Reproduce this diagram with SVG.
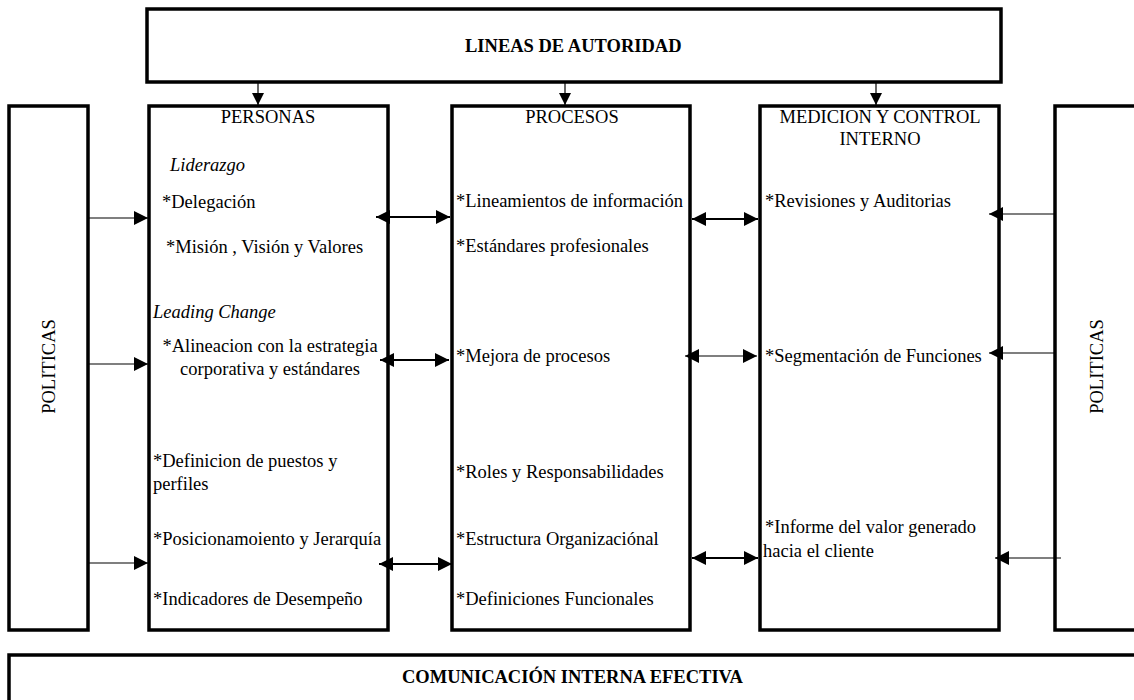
<svg xmlns="http://www.w3.org/2000/svg" width="1134" height="700" viewBox="0 0 1134 700">
  <style>
    .box { fill: #fff; stroke: #000; stroke-width: 3.5; }
    .t { font-family: "Liberation Serif", "Times New Roman", serif; font-size: 18.5px; fill: #000; }
    .b { font-weight: bold; }
    .i { font-style: italic; }
    .mid { text-anchor: middle; }
    .thin { stroke: #000; stroke-width: 1.2; fill: none; }
    .thick { stroke: #000; stroke-width: 2.2; fill: none; }
  </style>
  <defs>
    <marker id="ah" markerUnits="userSpaceOnUse" markerWidth="14" markerHeight="14" refX="14" refY="7" orient="auto-start-reverse">
      <path d="M0,0 L14,7 L0,14 Z" fill="#000"/>
    </marker>
    <marker id="ahs" markerUnits="userSpaceOnUse" markerWidth="12" markerHeight="14" refX="12" refY="7" orient="auto">
      <path d="M0,1 L12,7 L0,13 Z" fill="#000"/>
    </marker>
  </defs>

  <rect width="1134" height="700" fill="#fff"/>

  <!-- Top band -->
  <g id="lineas-autoridad">
    <rect class="box" x="147" y="9" width="854" height="73"/>
    <text class="t b" x="465" y="52">LINEAS DE AUTORIDAD</text>
  </g>

  <!-- Left policies column -->
  <g id="politicas-izq">
    <rect class="box" x="9" y="106" width="79" height="524"/>
    <text class="t mid" transform="translate(55,366.5) rotate(-90)">POLITICAS</text>
  </g>

  <!-- People -->
  <g id="personas">
    <rect class="box" x="149" y="106" width="239" height="524"/>
    <text class="t mid" x="268" y="123">PERSONAS</text>
    <text class="t i" x="170" y="171">Liderazgo</text>
    <text class="t" x="162" y="208">*Delegación</text>
    <text class="t" x="166" y="253">*Misión , Visión y Valores</text>
    <text class="t i" x="153" y="318">Leading Change</text>
    <text class="t mid" x="270" y="352">*Alineacion con la estrategia</text>
    <text class="t mid" x="270" y="375">corporativa y estándares</text>
    <text class="t" x="153" y="467">*Definicion de puestos y</text>
    <text class="t" x="153" y="490">perfiles</text>
    <text class="t" x="153" y="545">*Posicionamoiento y Jerarquía</text>
    <text class="t" x="153" y="605">*Indicadores de Desempeño</text>
  </g>

  <!-- Processes -->
  <g id="procesos">
    <rect class="box" x="452" y="106" width="238" height="524"/>
    <text class="t mid" x="572" y="123">PROCESOS</text>
    <text class="t" x="456" y="207">*Lineamientos de información</text>
    <text class="t" x="456" y="252">*Estándares profesionales</text>
    <text class="t" x="456" y="362">*Mejora de procesos</text>
    <text class="t" x="456" y="478">*Roles y Responsabilidades</text>
    <text class="t" x="456" y="545">*Estructura Organizaciónal</text>
    <text class="t" x="456" y="605">*Definiciones Funcionales</text>
  </g>

  <!-- Measurement and internal control -->
  <g id="medicion-control">
    <rect class="box" x="760" y="106" width="239" height="524"/>
    <text class="t mid" x="880" y="123">MEDICION Y CONTROL</text>
    <text class="t mid" x="880" y="145">INTERNO</text>
    <text class="t" x="765" y="207">*Revisiones y Auditorias</text>
    <text class="t" x="765" y="362">*Segmentación de Funciones</text>
    <text class="t" x="765" y="533">*Informe del valor generado</text>
    <text class="t" x="763" y="557">hacia el cliente</text>
  </g>

  <!-- Right policies column -->
  <g id="politicas-der">
    <rect class="box" x="1055" y="106" width="100" height="524"/>
    <text class="t mid" transform="translate(1103,366.5) rotate(-90)">POLITICAS</text>
  </g>

  <!-- Bottom band -->
  <g id="comunicacion">
    <rect class="box" x="9" y="655" width="1140" height="60"/>
    <text class="t b" x="402" y="683">COMUNICACIÓN INTERNA EFECTIVA</text>
  </g>

  <g id="connectors">
    <!-- authority lines down to each pillar -->
    <line class="thin" x1="258" y1="82" x2="258" y2="105" marker-end="url(#ahs)"/>
    <line class="thin" x1="565" y1="82" x2="565" y2="105" marker-end="url(#ahs)"/>
    <line class="thin" x1="876" y1="82" x2="876" y2="105" marker-end="url(#ahs)"/>

    <!-- policies into people -->
    <line class="thin" x1="88" y1="218" x2="148" y2="218" marker-end="url(#ah)"/>
    <line class="thin" x1="88" y1="364" x2="148" y2="364" marker-end="url(#ah)"/>
    <line class="thin" x1="88" y1="563" x2="148" y2="563" marker-end="url(#ah)"/>

    <!-- people <-> processes -->
    <line class="thick" x1="376" y1="217" x2="450" y2="217" marker-start="url(#ah)" marker-end="url(#ah)"/>
    <line class="thick" x1="380" y1="360" x2="449" y2="360" marker-start="url(#ah)" marker-end="url(#ah)"/>
    <line class="thick" x1="379" y1="564" x2="452" y2="564" marker-start="url(#ah)" marker-end="url(#ah)"/>

    <!-- processes <-> control -->
    <line class="thick" x1="692" y1="219" x2="758" y2="219" marker-start="url(#ah)" marker-end="url(#ah)"/>
    <line class="thin" x1="685" y1="356" x2="757" y2="356" marker-start="url(#ah)" marker-end="url(#ah)"/>
    <line class="thick" x1="692" y1="558" x2="758" y2="558" marker-start="url(#ah)" marker-end="url(#ah)"/>

    <!-- policies into control -->
    <line class="thin" x1="1055" y1="214" x2="989" y2="214" marker-end="url(#ah)"/>
    <line class="thin" x1="1055" y1="353" x2="989" y2="353" marker-end="url(#ah)"/>
    <line class="thin" x1="1061" y1="558" x2="995" y2="558" marker-end="url(#ah)"/>
  </g>
</svg>
